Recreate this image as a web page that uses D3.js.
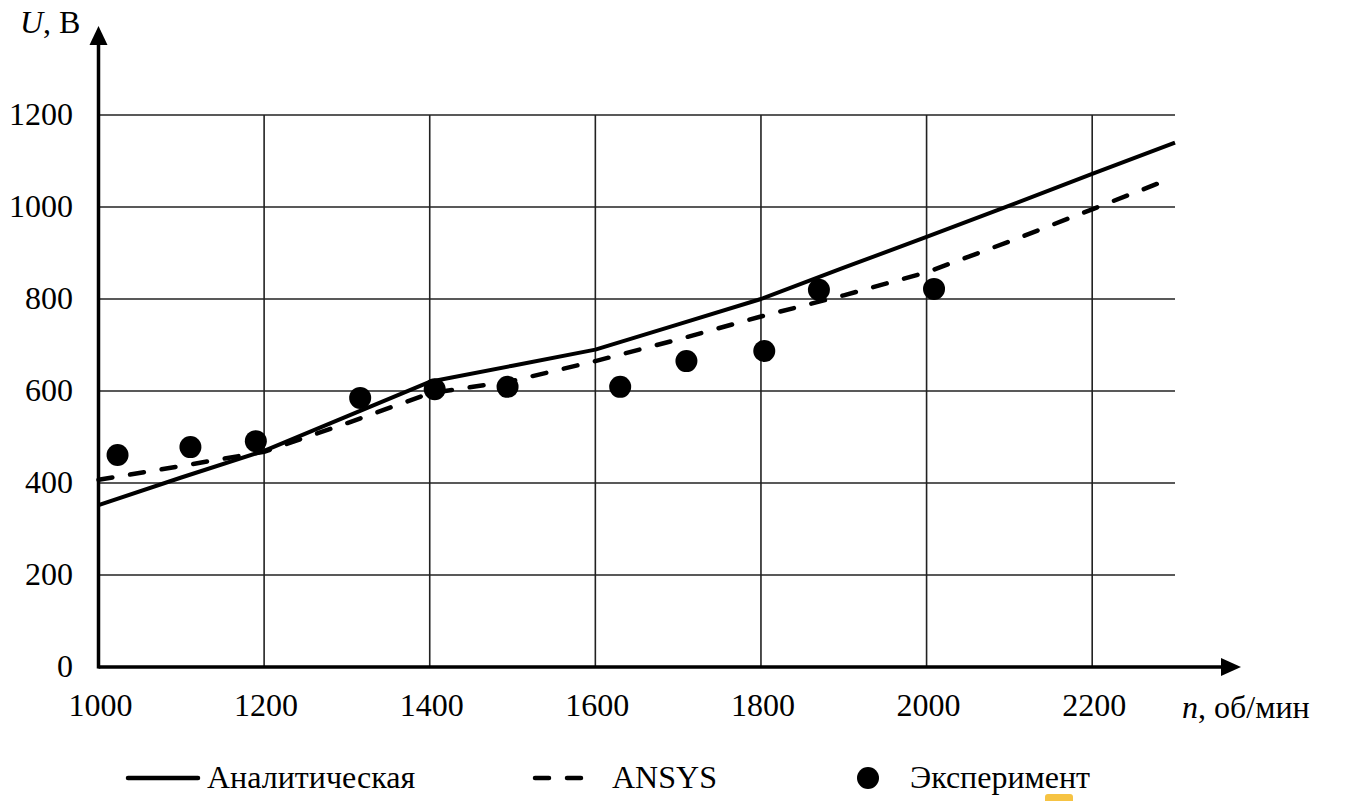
<!DOCTYPE html>
<html><head><meta charset="utf-8">
<script src="https://cdn.jsdelivr.net/npm/d3@7"></script>
<style>
svg text, svg tspan { font-family: "Liberation Serif", Tinos, "Times New Roman", serif !important; }
</style>
</head><body style="margin:0">
<script>
// Data
const xTicks = [1000, 1200, 1400, 1600, 1800, 2000, 2200];
const yTicks = [0, 200, 400, 600, 800, 1000, 1200];
const analyticN = [1000, 1100, 1200, 1300, 1400, 1500, 1600, 1700, 1800, 1900, 2000, 2100, 2200, 2300];
const analyticU = [352, 412, 470, 545, 620, 655, 690, 745, 800, 868, 935, 1003, 1072, 1140];
const ansysN = [1000, 1100, 1200, 1300, 1400, 1500, 1600, 1700, 1800, 1900, 2000, 2100, 2200, 2285];
const ansysU = [407, 437, 468, 530, 595, 622, 665, 712, 762, 808, 858, 925, 995, 1055];
const expN = [1023, 1111, 1190, 1316, 1406, 1494, 1630, 1710, 1804, 1870, 2009];
const expU = [461, 478, 491, 585, 604, 609, 609, 665, 687, 820, 822];
const legendLabels = ["Аналитическая", "ANSYS", "Эксперимент"];

const W = 1349, H = 801;
const svg = d3.select("body").append("svg").attr("width", W).attr("height", H)
  .style("display", "block");
const x = d3.scaleLinear().domain([1000, 2300]).range([98.5, 1175]);
const y = d3.scaleLinear().domain([0, 1200]).range([667, 115]);
const FS = 32;
function txt(sel) {
  return sel.style("font-family", '"Liberation Serif", Tinos, "Times New Roman", serif')
    .style("font-size", FS + "px");
}

// grid
const g = svg.append("g");
g.selectAll("line.hg").data(yTicks.filter(d => d > 0)).join("line")
  .attr("x1", x(1000)).attr("x2", x(2300)).attr("y1", d => y(d)).attr("y2", d => y(d))
  .attr("stroke", "#222").attr("stroke-width", 1.6);
g.selectAll("line.vg").data(xTicks.filter(d => d > 1000)).join("line")
  .attr("x1", d => x(d)).attr("x2", d => x(d)).attr("y1", y(0)).attr("y2", y(1200))
  .attr("stroke", "#222").attr("stroke-width", 1.6);

// axes
svg.append("line").attr("x1", x(1000)).attr("x2", 1224).attr("y1", y(0)).attr("y2", y(0))
  .attr("stroke", "#000").attr("stroke-width", 3.5);
svg.append("path").attr("d", `M1241,${y(0)} L1221,${y(0)-9} L1221,${y(0)+9} Z`).attr("fill", "#000");
svg.append("line").attr("x1", x(1000)).attr("x2", x(1000)).attr("y1", y(0)+1.5).attr("y2", 44)
  .attr("stroke", "#000").attr("stroke-width", 3.5);
svg.append("path").attr("d", `M${x(1000)},26 L${x(1000)-9},45 L${x(1000)+9},45 Z`).attr("fill", "#000");

// tick labels
txt(svg.selectAll("text.xt").data(xTicks).join("text"))
  .attr("x", d => x(d) + 2).attr("y", 716).attr("text-anchor", "middle").text(d => d);
txt(svg.selectAll("text.yt").data(yTicks).join("text"))
  .attr("x", 73).attr("y", d => y(d) + 10).attr("text-anchor", "end").text(d => d);

// axis titles
const yl = txt(svg.append("text")).attr("x", 20).attr("y", 33);
yl.append("tspan").style("font-style", "italic").text("U");
yl.append("tspan").text(", В");
const xl = txt(svg.append("text")).attr("x", 1182).attr("y", 718);
xl.append("tspan").style("font-style", "italic").text("n");
xl.append("tspan").text(", об/мин");

// lines
const line = d3.line().x(d => x(d[0])).y(d => y(d[1]));
svg.append("path").datum(analyticN.map((n, i) => [n, analyticU[i]]))
  .attr("d", line).attr("fill", "none").attr("stroke", "#000").attr("stroke-width", 4)
  .attr("stroke-linejoin", "round");
svg.append("path").datum(ansysN.map((n, i) => [n, ansysU[i]]))
  .attr("d", line).attr("fill", "none").attr("stroke", "#000").attr("stroke-width", 4.5)
  .attr("stroke-dasharray", "14,18").attr("stroke-linecap", "round");

// points
svg.selectAll("circle.exp").data(expN.map((n, i) => [n, expU[i]])).join("circle")
  .attr("cx", d => x(d[0])).attr("cy", d => y(d[1])).attr("r", 11).attr("fill", "#000");

// legend
const ly = 778;
svg.append("line").attr("x1", 128).attr("x2", 198).attr("y1", ly).attr("y2", ly)
  .attr("stroke", "#000").attr("stroke-width", 4.5).attr("stroke-linecap", "round");
txt(svg.append("text")).attr("x", 207).attr("y", 788).text(legendLabels[0]);
svg.append("line").attr("x1", 535).attr("x2", 584).attr("y1", ly).attr("y2", ly)
  .attr("stroke", "#000").attr("stroke-width", 4.5).attr("stroke-linecap", "round")
  .attr("stroke-dasharray", "14,18");
txt(svg.append("text")).attr("x", 612).attr("y", 788).text(legendLabels[1]);
svg.append("circle").attr("cx", 868).attr("cy", ly).attr("r", 11).attr("fill", "#000");
txt(svg.append("text")).attr("x", 910).attr("y", 788).text(legendLabels[2]);
svg.append("rect").attr("x", 1045).attr("y", 794).attr("width", 28).attr("height", 12)
  .attr("rx", 3).attr("fill", "#f6c343");
</script>
</body></html>
